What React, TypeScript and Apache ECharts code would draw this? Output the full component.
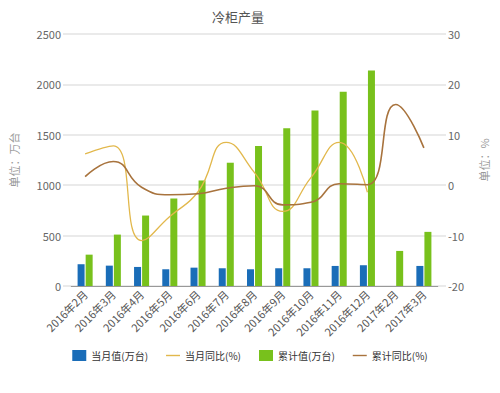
import React, { useEffect, useRef } from "react";
import * as echarts from "echarts";

const categories = [
  "2016年2月", "2016年3月", "2016年4月", "2016年5月", "2016年6月", "2016年7月",
  "2016年8月", "2016年9月", "2016年10月", "2016年11月", "2016年12月", "2017年2月", "2017年3月",
];
const monthValue: (number | null)[] = [216, 202, 189, 166, 182, 176, 166, 176, 176, 199, 206, null, 199];
const monthYoY: (number | null)[] = [6.2, 7.8, -11.0, -6.2, -1.3, 8.5, 2.5, -5.2, 1.5, 8.5, -1.4, null, null];
const cumValue: (number | null)[] = [311, 510, 699, 868, 1047, 1223, 1388, 1565, 1740, 1928, 2138, 348, 537];
const cumYoY: (number | null)[] = [1.7, 4.7, -0.4, -1.9, -1.7, -0.6, -0.1, -3.9, -3.4, 0.3, 0.1, 16.0, 7.4];

const FONT = "'Noto Sans CJK SC', 'Noto Sans', sans-serif";
const LINE_ICON = "path://M0,0 L20,0 L20,2 L0,2 Z";

export default function App() {
  const ref = useRef<HTMLDivElement>(null);
  useEffect(() => {
    if (!ref.current) return;
    const chart = echarts.init(ref.current, undefined, { renderer: "svg" });
    chart.setOption({
      animation: false,
      backgroundColor: "#ffffff",
      textStyle: { fontFamily: FONT },
      title: {
        text: "冷柜产量",
        left: 233,
        top: 5,
        textAlign: "center",
        textStyle: { fontSize: 13, fontWeight: "normal", color: "#555", fontFamily: FONT },
      },
      legend: {
        bottom: 27,
        left: "center",
        itemWidth: 14,
        itemHeight: 11,
        itemGap: 18,
        itemTextGap: 5,
        textStyle: { fontSize: 10, color: "#333", fontFamily: FONT },
        data: [
          { name: "当月值(万台)", icon: "rect" },
          { name: "当月同比(%)", icon: LINE_ICON },
          { name: "累计值(万台)", icon: "rect" },
          { name: "累计同比(%)", icon: LINE_ICON },
        ],
      },
      grid: { left: 70, right: 62, top: 34, bottom: 107 },
      xAxis: {
        type: "category",
        data: categories,
        axisLine: { lineStyle: { color: "#999" } },
        axisTick: { alignWithLabel: true, length: 5, lineStyle: { color: "#999" } },
        axisLabel: { rotate: 45, fontSize: 11, color: "#555", margin: 6, interval: 0 },
      },
      yAxis: [
        {
          type: "value",
          min: 0,
          max: 2500,
          interval: 500,
          name: "单位：万台",
          nameLocation: "middle",
          nameGap: 52,
          nameTextStyle: { color: "#999", fontSize: 11 },
          axisLine: { show: false },
          axisTick: { show: true, length: 8, lineStyle: { color: "#e3e3e3", width: 1.5 } },
          axisLabel: { color: "#666", fontSize: 11, margin: 10, formatter: (v: number) => String(v) },
          splitLine: { lineStyle: { color: "#e3e3e3", width: 1.5 } },
        },
        {
          type: "value",
          min: -20,
          max: 30,
          interval: 10,
          name: "单位：%",
          nameLocation: "middle",
          nameGap: 40,
          nameRotate: 90,
          nameTextStyle: { color: "#999", fontSize: 11 },
          axisLine: { show: false },
          axisTick: { show: true, length: 8, lineStyle: { color: "#e3e3e3", width: 1.5 } },
          axisLabel: { color: "#666", fontSize: 11, margin: 10 },
          splitLine: { show: false },
        },
      ],
      series: [
        {
          name: "当月值(万台)",
          type: "bar",
          data: monthValue,
          barWidth: 7,
          barGap: "15%",
          itemStyle: { color: "#1a6db8" },
        },
        {
          name: "累计值(万台)",
          type: "bar",
          data: cumValue,
          barWidth: 7,
          barGap: "15%",
          itemStyle: { color: "#78c11c" },
        },
        {
          name: "当月同比(%)",
          type: "line",
          yAxisIndex: 1,
          data: monthYoY,
          smooth: 0.5,
          showSymbol: false,
          symbol: "none",
          z: 3,
          lineStyle: { color: "#e2b84c", width: 1.3 },
          itemStyle: { color: "#e2b84c" },
        },
        {
          name: "累计同比(%)",
          type: "line",
          yAxisIndex: 1,
          data: cumYoY,
          smooth: 0.5,
          showSymbol: false,
          symbol: "none",
          z: 3,
          lineStyle: { color: "#a8733d", width: 1.6 },
          itemStyle: { color: "#a8733d" },
        },
      ],
    });
    return () => chart.dispose();
  }, []);
  return (
    <div
      ref={ref}
      style={{ position: "fixed", left: 0, top: 0, width: 500, height: 393 }}
    />
  );
}
